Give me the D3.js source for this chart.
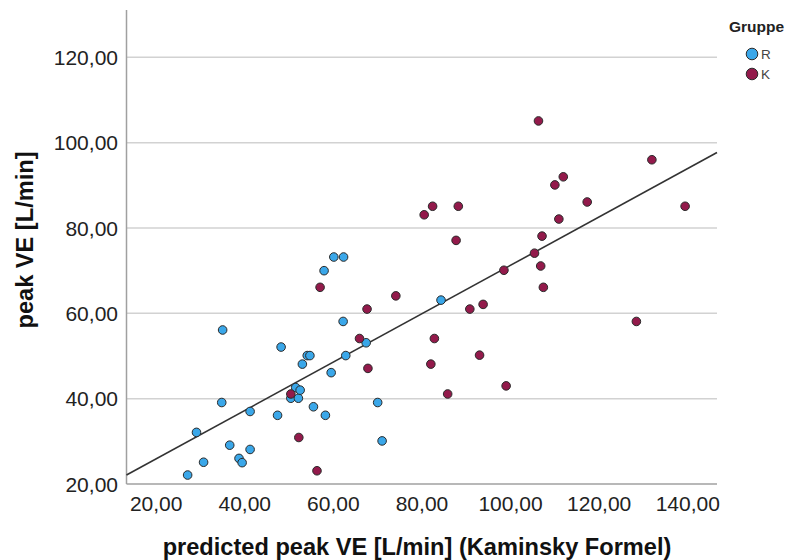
<!DOCTYPE html>
<html>
<head>
<meta charset="utf-8">
<script src="https://cdn.jsdelivr.net/npm/d3@7"></script>
<style>
  body { margin: 0; background: #fff; }
  svg { display: block; font-family: "Liberation Sans", Arial, sans-serif; }
  .tick-label { font-size: 21px; fill: #222; }
  .axis-title { font-size: 23.6px; font-weight: bold; fill: #111; }
</style>
</head>
<body>
<svg width="792" height="560"></svg>
<script>
// group R (blue)
const rX = [27.1, 30.7, 29.1, 36.6, 38.7, 39.4, 41.2, 41.2, 34.8, 35.0, 47.4, 48.2, 50.4, 52.1, 51.5, 52.5,
            53.0, 54.1, 54.7, 55.5, 58.2, 59.5, 57.9, 60.1, 62.3, 62.2, 62.8, 67.4, 70.0, 71.0, 84.3];
const rY = [22.1, 25.1, 32.1, 29.1, 26.0, 25.0, 28.1, 37.0, 39.1, 56.1, 36.1, 52.1, 40.1, 40.1, 42.6, 42.0,
            48.1, 50.1, 50.1, 38.1, 36.1, 46.1, 70.0, 73.2, 73.2, 58.1, 50.1, 53.1, 39.1, 30.1, 63.1];
// group K (red)
const kX = [50.4, 52.2, 56.3, 57.0, 65.9, 67.6, 67.8, 74.1, 106.3, 131.9, 111.9, 110.0, 82.4, 88.2, 80.5, 139.4,
            117.3, 110.9, 87.7, 107.1, 105.4, 98.5, 106.8, 107.4, 93.8, 90.8, 128.4, 82.8, 82.0, 93.0, 85.8, 99.0];
const kY = [41.1, 30.9, 23.1, 66.1, 54.1, 61.0, 47.1, 64.1, 105.1, 96.0, 92.0, 90.1, 85.1, 85.1, 83.1, 85.1,
            86.1, 82.1, 77.1, 78.1, 74.1, 70.1, 71.1, 66.1, 62.1, 61.0, 58.1, 54.1, 48.1, 50.2, 41.1, 43.0];

const groups = ['R', 'K'];
const groupColors = ['#3aa7e9', '#931a4b'];

const xTicks = [20, 40, 60, 80, 100, 120, 140];
const yTicks = [20, 40, 60, 80, 100, 120];

// fit line
const fitIntercept = 14.56, fitSlope = 0.567;

const fmt = v => d3.format('.2f')(v).replace('.', ',');

const svg = d3.select('svg');
const x = d3.scaleLinear().domain([13.3, 146.6]).range([126.5, 717]);
const y = d3.scaleLinear().domain([20, 131.1]).range([484, 10]);

// gridlines
svg.append('g').selectAll('line').data(yTicks.filter(d => d > 20)).enter().append('line')
  .attr('x1', x.range()[0]).attr('x2', x.range()[1])
  .attr('y1', d => y(d)).attr('y2', d => y(d))
  .attr('stroke', '#d2d2d2').attr('stroke-width', 1.5);

// axes lines
svg.append('line').attr('x1', x.range()[0]).attr('x2', x.range()[0])
  .attr('y1', y.range()[1]).attr('y2', y.range()[0])
  .attr('stroke', '#a0a0a0').attr('stroke-width', 1.5);
svg.append('line').attr('x1', x.range()[0]).attr('x2', x.range()[1])
  .attr('y1', y.range()[0]).attr('y2', y.range()[0])
  .attr('stroke', '#a0a0a0').attr('stroke-width', 1.5);

// tick labels
svg.append('g').selectAll('text').data(yTicks).enter().append('text')
  .attr('class', 'tick-label').attr('text-anchor', 'end')
  .attr('x', 118).attr('y', d => y(d)).attr('dy', '0.36em')
  .text(fmt);
svg.append('g').selectAll('text').data(xTicks).enter().append('text')
  .attr('class', 'tick-label').attr('text-anchor', 'middle')
  .attr('x', d => x(d)).attr('y', 511)
  .text(fmt);

// axis titles
svg.append('text').attr('class', 'axis-title')
  .attr('text-anchor', 'middle')
  .attr('transform', 'translate(33,240)rotate(-90)')
  .text('peak VE [L/min]');
svg.append('text').attr('class', 'axis-title')
  .attr('text-anchor', 'middle')
  .attr('x', 417).attr('y', 555)
  .text('predicted peak VE [L/min] (Kaminsky Formel)');

// fit line
const xd = x.domain();
svg.append('line')
  .attr('x1', x(xd[0])).attr('y1', y(fitIntercept + fitSlope * xd[0]))
  .attr('x2', x(xd[1])).attr('y2', y(fitIntercept + fitSlope * xd[1]))
  .attr('stroke', '#333').attr('stroke-width', 1.6);

// points
const series = [d3.zip(rX, rY), d3.zip(kX, kY)];
series.forEach((pts, i) => {
  svg.append('g').selectAll('circle').data(pts).enter().append('circle')
    .attr('cx', d => x(d[0])).attr('cy', d => y(d[1])).attr('r', 4.3)
    .attr('fill', groupColors[i]).attr('stroke', '#2a2a2a').attr('stroke-width', 1);
});

// legend
const legend = svg.append('g');
legend.append('text').attr('x', 729).attr('y', 32)
  .attr('font-size', 15.5).attr('font-weight', 'bold').attr('fill', '#222')
  .text('Gruppe');
groups.forEach((g, i) => {
  legend.append('circle').attr('cx', 752).attr('cy', 54 + i * 20).attr('r', 5.8)
    .attr('fill', groupColors[i]).attr('stroke', '#2a2a2a').attr('stroke-width', 1);
  legend.append('text').attr('x', 761).attr('y', 59 + i * 20)
    .attr('font-size', 13.5).attr('fill', '#444').text(g);
});
</script>
</body>
</html>
